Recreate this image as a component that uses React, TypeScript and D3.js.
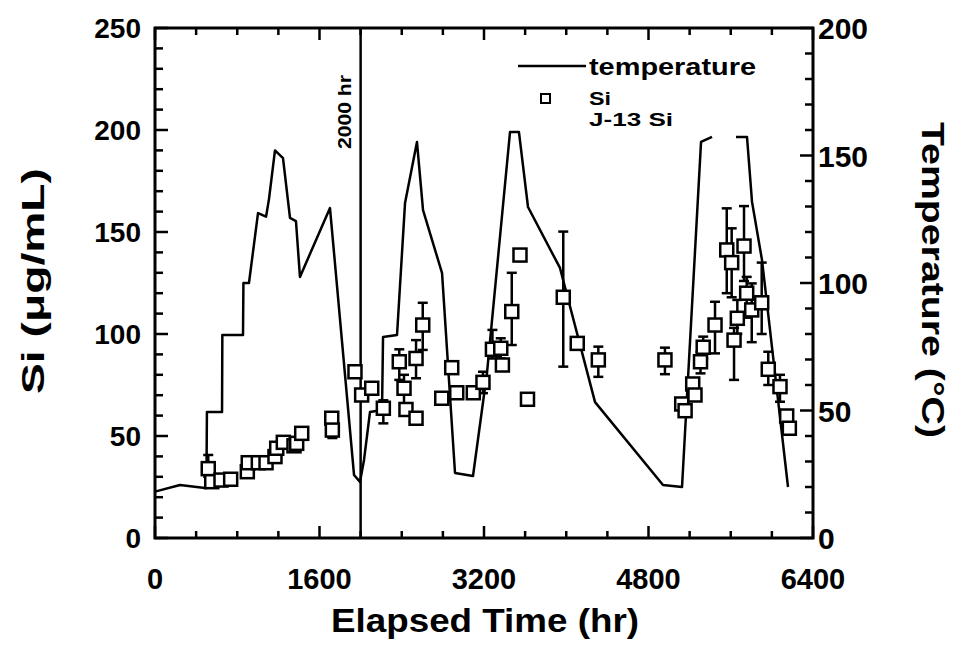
import React from "react";
import * as d3 from "d3";

const xTickLabels = [0, 1600, 3200, 4800, 6400];
const siTickLabels = [0, 50, 100, 150, 200, 250];
const tempTickLabels = [0, 50, 100, 150, 200];

// temperature trace (hr, °C); null = gap in the trace
const tempHr = [0, 243, 486, 500, 505, 652, 655, 856, 860, 914, 1002, 1080, 1109, 1167, 1245, 1313, 1371, 1410, 1702, 1936, 1994, 2033, 2091, 2208, 2218, 2354, 2432, 2548, 2607, 2792, 2918, 3093, 3229, 3453, 3540, 3628, 3939, 4280, 4941, 5126, 5311, 5418, 5530, 5651, 5758, 5807, 5904, 6157];
const tempC: (number | null)[] = [18.2, 20.8, 19.6, 19.6, 49.4, 49.4, 79.6, 79.6, 100, 100, 127.4, 126, 133, 152, 149, 125.5, 124.3, 102.4, 129.4, 24.7, 22, 30.6, 49.4, 50.2, 78.8, 79.6, 131.4, 155.3, 128.6, 103.9, 25.5, 24.3, 64.7, 159.2, 159.2, 129.8, 105.9, 53.3, 20.8, 20, 155.3, 157.3, null, 157.3, 157.3, 131.8, 109, 20];

// Si measurements (hr, µg/mL) with error bar ends (null = none)
const siHr = [518, 552, 642, 736, 898, 907, 1005, 1080, 1167, 1184, 1248, 1352, 1378, 1427, 1719, 1725, 1945, 2010, 2108, 2221, 2376, 2422, 2441, 2539, 2539, 2604, 2789, 2886, 2935, 3096, 3190, 3282, 3363, 3379, 3470, 3550, 3623, 3971, 4107, 4312, 4960, 5123, 5156, 5230, 5252, 5306, 5332, 5447, 5561, 5609, 5632, 5664, 5729, 5755, 5804, 5901, 5965, 6079, 6144, 6170];
const siVal = [34, 27.6, 28.4, 28.8, 32.5, 36.9, 36.9, 36.9, 39.9, 44, 46.9, 45.2, 46.4, 51.3, 58.7, 52.9, 81.5, 70.1, 73.4, 63.6, 86.4, 73.4, 63, 58.7, 88, 104.4, 68.5, 83.5, 71.2, 71.2, 76.3, 92.5, 93, 84.8, 111, 138.7, 68, 118, 95.4, 87.3, 87.3, 65.7, 62.4, 75.5, 70.1, 86.4, 93.5, 104.4, 141.2, 135, 97, 107.7, 143.1, 120, 111.8, 115.3, 82.7, 74.2, 59.8, 53.8];
const siLo: (number | null)[] = [30, null, null, null, null, null, null, null, null, null, null, null, null, null, 56, 49, null, null, null, 56.2, 77.5, 64, null, null, 78.3, 92.2, null, null, null, null, 71, 88, 88, null, 94.6, null, null, 84, null, 79, 80.3, null, null, null, null, 80.7, 88, 90.5, 120, 118, 77.5, 100, 126, 108, 96, 100, 75, 66.8, null, null];
const siHi: (number | null)[] = [40.7, null, null, null, null, null, null, null, null, null, null, null, null, null, 61, 56, null, null, null, 67.5, 92.5, 80, null, null, 97, 115.3, null, null, null, null, 81.5, 102, 97.9, null, 130, null, null, 150.2, null, 93.8, 93.3, null, null, null, null, 91.3, 98.7, 115.8, 161.6, 151.8, 103, 116.7, 162.7, 128, 124.8, 135, 91.3, 80, null, null];

const W = 961;
const H = 651;
const L = 155, R = 813, T = 28, B = 538;
const FONT = "'Liberation Sans', Arial, Helvetica, sans-serif";

export default function App() {
  const x = d3.scaleLinear().domain([0, 6400]).range([L, R]);
  const ySi = d3.scaleLinear().domain([0, 250]).range([B, T]);
  const yT = d3.scaleLinear().domain([0, 200]).range([B, T]);

  const tempData = tempHr.map((h, i) => ({ h, c: tempC[i] }));
  const line = d3
    .line<{ h: number; c: number | null }>()
    .defined((d) => d.c !== null)
    .x((d) => x(d.h))
    .y((d) => yT(d.c as number));

  const xTicks = d3.range(0, 6401, 400);
  const siTicks = d3.range(0, 251, 10);
  const tTicks = d3.range(0, 201, 10);

  const sq = 13;
  const cap = 5;

  return (
    <svg width={W} height={H} style={{ position: "absolute", left: 0, top: 0, background: "#fff" }}>
      {/* ticks */}
      <g stroke="#000" strokeWidth={2.5}>
        {xTicks.map((t) => {
          const len = t % 1600 === 0 ? 12 : 7;
          return (
            <g key={"xt" + t}>
              <line x1={x(t)} x2={x(t)} y1={B} y2={B - len} />
              <line x1={x(t)} x2={x(t)} y1={T} y2={T + len} />
            </g>
          );
        })}
        {siTicks.map((v) => (
          <line key={"st" + v} x1={L} x2={L + (v % 50 === 0 ? 13 : 8)} y1={ySi(v)} y2={ySi(v)} />
        ))}
        {tTicks.map((v) => (
          <line key={"tt" + v} x1={R} x2={R - (v % 50 === 0 ? 13 : 8)} y1={yT(v)} y2={yT(v)} />
        ))}
      </g>
      {/* frame */}
      <rect x={L} y={T} width={R - L} height={B - T} fill="none" stroke="#000" strokeWidth={3} />
      {/* 2000 hr marker */}
      <line x1={x(2000)} x2={x(2000)} y1={T} y2={B} stroke="#000" strokeWidth={2.5} />
      <text
        transform={`translate(${x(2000) - 10},112) rotate(-90)`}
        textAnchor="middle"
        fontFamily={FONT}
        fontWeight="bold"
        fontSize={18}
        textLength={74}
        lengthAdjust="spacingAndGlyphs"
      >
        2000 hr
      </text>
      {/* temperature line */}
      <path d={line(tempData) || ""} fill="none" stroke="#000" strokeWidth={2.5} strokeLinejoin="round" />
      {/* Si error bars */}
      <g stroke="#000" strokeWidth={2.5}>
        {siHr.map((h, i) => {
          const lo = siLo[i];
          const hi = siHi[i];
          if (lo === null || hi === null) return null;
          const cx = x(h);
          return (
            <g key={"eb" + i}>
              <line x1={cx} x2={cx} y1={ySi(lo)} y2={ySi(hi)} />
              <line x1={cx - cap} x2={cx + cap} y1={ySi(lo)} y2={ySi(lo)} />
              <line x1={cx - cap} x2={cx + cap} y1={ySi(hi)} y2={ySi(hi)} />
            </g>
          );
        })}
      </g>
      {/* Si squares */}
      <g fill="#fff" stroke="#000" strokeWidth={2.5}>
        {siHr.map((h, i) => (
          <rect key={"sq" + i} x={x(h) - sq / 2} y={ySi(siVal[i]) - sq / 2} width={sq} height={sq} />
        ))}
      </g>
      {/* legend */}
      <line x1={518} x2={586} y1={66} y2={66} stroke="#000" strokeWidth={2.5} />
      <text x={589} y={75} fontFamily={FONT} fontWeight="bold" fontSize={24} textLength={167} lengthAdjust="spacingAndGlyphs">
        temperature
      </text>
      <rect x={541} y={94} width={9} height={9} fill="#fff" stroke="#000" strokeWidth={2} />
      <text x={589} y={105} fontFamily={FONT} fontWeight="bold" fontSize={19} textLength={22} lengthAdjust="spacingAndGlyphs">
        Si
      </text>
      <text x={589} y={126} fontFamily={FONT} fontWeight="bold" fontSize={19} textLength={84} lengthAdjust="spacingAndGlyphs">
        J-13  Si
      </text>
      {/* tick labels */}
      <g fontFamily={FONT} fontWeight="bold" fill="#000">
        {xTickLabels.map((t) => (
          <text key={"xl" + t} x={x(t)} y={589} textAnchor="middle" fontSize={29}>
            {t}
          </text>
        ))}
        {siTickLabels.map((v) => (
          <text key={"sl" + v} x={L - 14} y={ySi(v) + 10} textAnchor="end" fontSize={28}>
            {v}
          </text>
        ))}
        {tempTickLabels.map((v) => (
          <text key={"tl" + v} x={R + 5} y={yT(v) + 11} textAnchor="start" fontSize={30}>
            {v}
          </text>
        ))}
      </g>
      {/* axis titles */}
      <text
        x={485}
        y={632}
        textAnchor="middle"
        fontFamily={FONT}
        fontWeight="bold"
        fontSize={33}
        textLength={308}
        lengthAdjust="spacingAndGlyphs"
      >
        Elapsed Time (hr)
      </text>
      <text
        transform={`translate(44,281) rotate(-90)`}
        textAnchor="middle"
        fontFamily={FONT}
        fontWeight="bold"
        fontSize={32}
        textLength={226}
        lengthAdjust="spacingAndGlyphs"
      >
        Si (μg/mL)
      </text>
      <text
        transform={`translate(922,280) rotate(90)`}
        textAnchor="middle"
        fontFamily={FONT}
        fontWeight="bold"
        fontSize={32}
        textLength={316}
        lengthAdjust="spacingAndGlyphs"
      >
        Temperature (°C)
      </text>
    </svg>
  );
}
